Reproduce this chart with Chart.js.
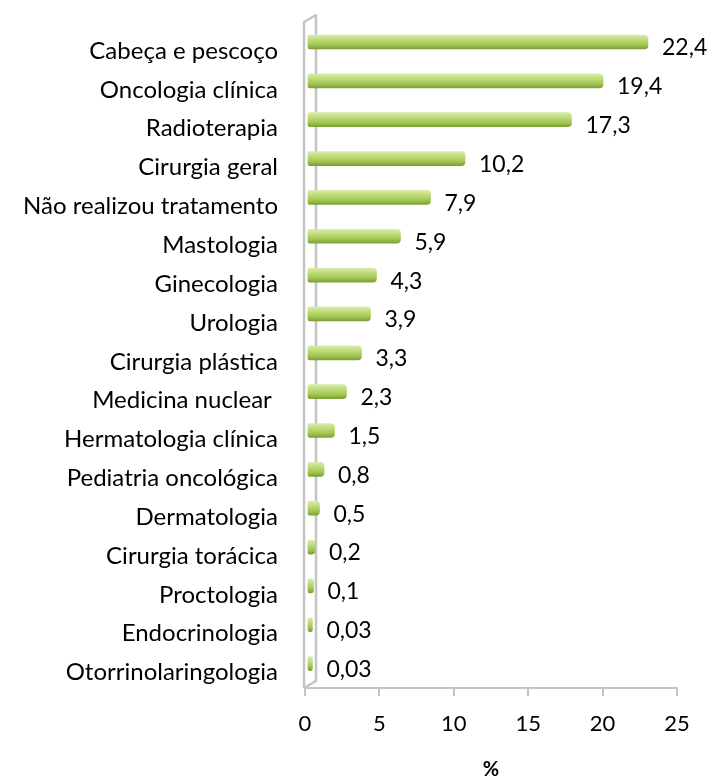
<!DOCTYPE html>
<html><head><meta charset="utf-8">
<script src="https://cdn.jsdelivr.net/npm/chart.js@4.4.0/dist/chart.umd.min.js"></script>
<style>html,body{margin:0;padding:0;background:#fff;overflow:hidden}#wrap{width:710px;height:778px;position:relative}canvas{display:block}</style>
</head><body><div id="wrap"><canvas id="c" width="710" height="778"></canvas></div>
<script>
const categories = ["Cabeça e pescoço","Oncologia clínica","Radioterapia","Cirurgia geral","Não realizou tratamento","Mastologia","Ginecologia","Urologia","Cirurgia plástica","Medicina nuclear ","Hermatologia clínica","Pediatria oncológica","Dermatologia","Cirurgia torácica","Proctologia","Endocrinologia","Otorrinolaringologia"];
const percentages = [22.4,19.4,17.3,10.2,7.9,5.9,4.3,3.9,3.3,2.3,1.5,0.8,0.5,0.2,0.1,0.03,0.03];
const xTickValues = [0,5,10,15,20,25];
const axisTitle = "%";

const valueLabels = percentages.map(v => String(v).replace('.', ','));
const points = percentages.map((v, i) => ({x: v, y: i}));
const FONT = 'Lato';

function barFill(c) {
  const ys = c.chart.scales.y;
  if (!ys || !c.parsed) return '#a5c956';
  const yc = ys.getPixelForValue(c.parsed.y);
  if (!isFinite(yc)) return '#a5c956';
  const g = c.chart.ctx.createLinearGradient(0, yc - 7, 0, yc + 7);
  g.addColorStop(0, '#d9ebaa');
  g.addColorStop(0.35, '#bedb78');
  g.addColorStop(0.7, '#a2c752');
  g.addColorStop(1, '#7d9f36');
  return g;
}

const wallPlugin = {
  id: 'wall',
  beforeDatasetsDraw(chart) {
    const a = chart.chartArea, ctx = chart.ctx;
    const fx = a.left - 1, bx = a.left + 11, d = 7;
    ctx.save();
    ctx.strokeStyle = '#c4c4c4';
    ctx.lineWidth = 2.5;
    ctx.lineJoin = 'round';
    ctx.beginPath();
    ctx.moveTo(fx, a.bottom);
    ctx.lineTo(fx, a.top + d);
    ctx.lineTo(bx, a.top);
    ctx.lineTo(bx, a.bottom - d);
    ctx.lineTo(fx, a.bottom);
    ctx.stroke();
    ctx.restore();
  }
};

const labelPlugin = {
  id: 'vals',
  afterDatasetsDraw(chart) {
    const ctx = chart.ctx, meta = chart.getDatasetMeta(0);
    ctx.save();
    ctx.fillStyle = '#000';
    ctx.font = '23px ' + FONT;
    ctx.textAlign = 'left';
    ctx.textBaseline = 'middle';
    meta.data.forEach((el, i) => {
      ctx.fillText(valueLabels[i], el.x + 14, el.y + 6);
    });
    ctx.restore();
  }
};

new Chart(document.getElementById('c'), {
  type: 'bar',
  data: {
    datasets: [{
      data: points,
      xAxisID: 'xb',
      yAxisID: 'y',
      base: -0.27,
      barThickness: 14,
      borderSkipped: false,
      borderRadius: {topLeft: 2, bottomLeft: 2, topRight: 4, bottomRight: 4},
      backgroundColor: barFill
    }]
  },
  options: {
    indexAxis: 'y',
    responsive: false,
    animation: false,
    events: [],
    layout: {padding: {left: 0, right: 33, top: 15, bottom: 0}},
    plugins: {legend: {display: false}, tooltip: {enabled: false}},
    scales: {
      x: {
        type: 'linear', axis: 'x', position: 'bottom', bounds: 'data', offset: false,
        min: xTickValues[0], max: xTickValues[xTickValues.length - 1],
        afterBuildTicks(s) { s.ticks = xTickValues.map(v => ({value: v})); },
        afterFit(s) { s.height = 90; s.paddingLeft = 0; s.paddingRight = 0; },
        ticks: {padding: 15, color: '#000', font: {family: FONT, size: 22}},
        grid: {drawOnChartArea: false, offset: false, color: '#c4c4c4', lineWidth: 2, tickLength: 8},
        border: {color: '#c4c4c4', width: 2},
        title: {display: true, text: axisTitle, color: '#000', font: {family: FONT, size: 20, weight: 'bold', lineHeight: '16px'}, padding: {top: 0, bottom: 0}}
      },
      xb: {type: 'linear', axis: 'x', display: false, bounds: 'data', offset: false, min: -0.467, max: 24.333},
      y: {
        type: 'linear', axis: 'y', position: 'left', reverse: true, bounds: 'data', offset: false,
        min: -0.695, max: 16.628,
        afterBuildTicks(s) { s.ticks = categories.map((_, i) => ({value: i})); },
        afterFit(s) { s.width = 305; s.paddingTop = 0; s.paddingBottom = 0; },
        grid: {display: false, drawTicks: false, offset: false},
        border: {display: false},
        ticks: {
          autoSkip: false,
          padding: 27, labelOffset: 9, color: '#000', font: {family: FONT, size: 24},
          callback: v => categories[v] !== undefined ? categories[v] : ''
        }
      }
    }
  },
  plugins: [wallPlugin, labelPlugin]
});
</script>
</body></html>
